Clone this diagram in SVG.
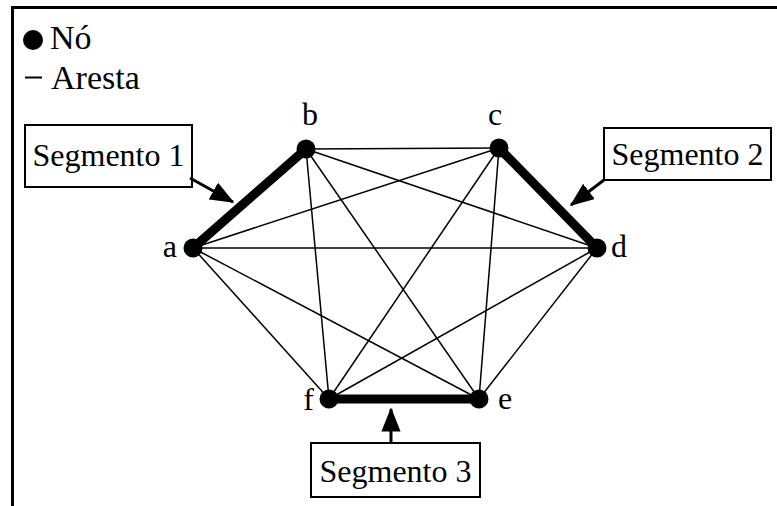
<svg xmlns="http://www.w3.org/2000/svg" width="777" height="506" viewBox="0 0 777 506">
<style>
text{font-family:"Liberation Serif","Times New Roman",serif;font-size:32px;fill:#000}
.leg{font-size:34px}
.thin{stroke:#000;stroke-width:1.5}
.thick{stroke:#000;stroke-width:9;stroke-linecap:round}
.box{fill:#fff;stroke:#000;stroke-width:2}
.arr{stroke:#000;stroke-width:3;marker-end:url(#ah)}
</style>
<defs>
<marker id="ah" markerWidth="8" markerHeight="6.4" refX="7.5" refY="3.2" orient="auto" markerUnits="strokeWidth">
<path d="M0,0 L8,3.2 L0,6.4 Z" fill="#000"/>
</marker>
</defs>
<rect width="777" height="506" fill="#fff"/>
<g id="frame">
<path d="M12.5,506 V7.5 H777" fill="none" stroke="#000" stroke-width="3"/>
</g>
<g id="legend">
<circle cx="33" cy="40" r="10" fill="#000"/>
<text class="leg" x="50" y="49">Nó</text>
<line x1="25" y1="77.5" x2="42" y2="77.5" stroke="#000" stroke-width="2"/>
<text class="leg" x="51" y="89">Aresta</text>
</g>
<g id="edges">
<line class="thin" x1="306" y1="149" x2="499" y2="148"/>
<line class="thin" x1="306" y1="149" x2="597" y2="248"/>
<line class="thin" x1="306" y1="149" x2="479" y2="399"/>
<line class="thin" x1="306" y1="149" x2="329" y2="399"/>
<line class="thin" x1="193" y1="248" x2="499" y2="148"/>
<line class="thin" x1="193" y1="248" x2="597" y2="248"/>
<line class="thin" x1="193" y1="248" x2="479" y2="399"/>
<line class="thin" x1="193" y1="248" x2="329" y2="399"/>
<line class="thin" x1="499" y1="148" x2="479" y2="399"/>
<line class="thin" x1="499" y1="148" x2="329" y2="399"/>
<line class="thin" x1="597" y1="248" x2="329" y2="399"/>
<line class="thin" x1="597" y1="248" x2="479" y2="399"/>
<line class="thick" x1="193" y1="248" x2="306" y2="149"/>
<line class="thick" x1="499" y1="148" x2="597" y2="248"/>
<line class="thick" x1="329" y1="399" x2="479" y2="399"/>
</g>
<g id="node-a"><circle cx="193" cy="248" r="9.5"/><text x="177" y="257" text-anchor="end">a</text></g>
<g id="node-b"><circle cx="306" cy="149" r="9.5"/><text x="310" y="125" text-anchor="middle">b</text></g>
<g id="node-c"><circle cx="499" cy="148" r="9.5"/><text x="495" y="125" text-anchor="middle">c</text></g>
<g id="node-d"><circle cx="597" cy="248" r="9.5"/><text x="611" y="257">d</text></g>
<g id="node-e"><circle cx="479" cy="399" r="9.5"/><text x="498" y="409">e</text></g>
<g id="node-f"><circle cx="329" cy="399" r="9.5"/><text x="314" y="410" text-anchor="end">f</text></g>
<g id="seg1">
<rect class="box" x="25" y="125" width="167" height="62"/>
<text x="108.5" y="166" text-anchor="middle">Segmento 1</text>
</g>
<g id="seg2">
<rect class="box" x="604" y="128" width="167" height="52"/>
<text x="687.5" y="165" text-anchor="middle">Segmento 2</text>
</g>
<g id="seg3">
<rect class="box" x="311" y="443" width="169" height="54"/>
<text x="395.5" y="482" text-anchor="middle">Segmento 3</text>
</g>
<g id="connectors">
<line class="arr" x1="190" y1="178" x2="233" y2="202"/>
<line class="arr" x1="604" y1="180" x2="571" y2="205"/>
<line class="arr" x1="391" y1="442" x2="391" y2="409"/>
</g>
</svg>
